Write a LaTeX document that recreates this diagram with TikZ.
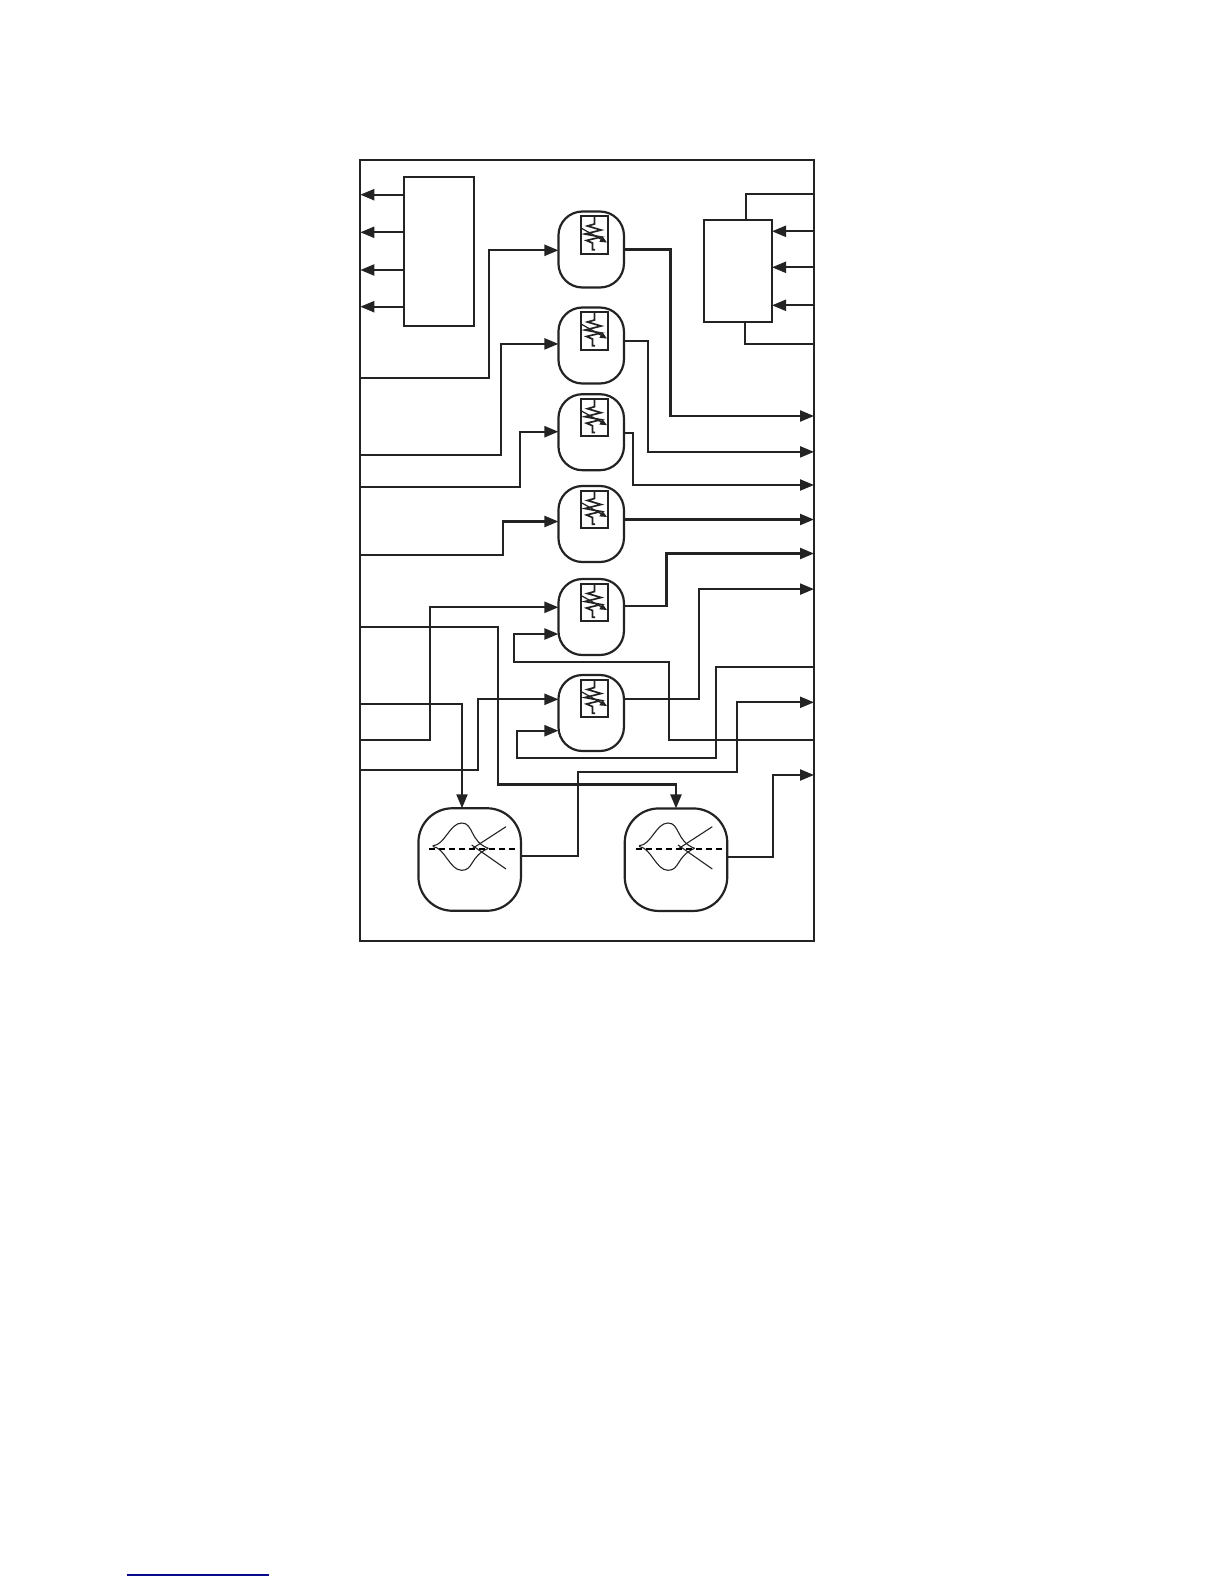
\documentclass[tikz,border=0pt]{standalone}
\usetikzlibrary{arrows.meta}
\definecolor{ink}{RGB}{35,35,35}
\definecolor{linkblue}{RGB}{10,10,140}
\tikzset{
  plainbox/.style={draw=ink,line width=2.2pt,inner sep=0pt,outer sep=0pt},
  resbox/.style={plainbox,rounded corners=24pt,minimum width=65.5pt,minimum height=76pt},
  filterbox/.style={plainbox,rounded corners=34pt,minimum width=102.5pt,minimum height=102.5pt},
  wire/.style={draw=ink,line width=2.2pt},
  arrowwire/.style={wire,-{Triangle[length=14pt,width=11pt]}},
  resistor/.pic={
    \draw[ink,line width=2pt] (-13.5,-18.6) rectangle (13.5,18.6);
    \draw[ink,line width=1.7pt] (0,-18.6) -- (0,-11) -- (-7,-9) -- (6.5,-5) -- (-9.5,-1) -- (6.5,2) -- (-8,5.5) -- (-2,8) -- (-2,14.7) -- (0.5,14.7);
    \draw[ink,line width=1.2pt,-{Triangle[length=7pt,width=6pt]}] (-13.5,-7) -- (12.5,7.5);
  },
  filtercurve/.pic={
    \draw[ink,line width=1.1pt] (-37,-13.8) .. controls (-25,-14) and (-20,-36.5) .. (-8,-36.5) .. controls (4,-36.5) and (0,-18) .. (18.6,-11.2);
    \draw[ink,line width=1.1pt] (-37,-13) .. controls (-25,-12) and (-20,10.8) .. (-8,10.8) .. controls (4,10.8) and (0,-3) .. (18.6,-11.2);
    \draw[ink,line width=1.1pt] (2,-10.5) -- (36.3,-32.8);
    \draw[ink,line width=1.1pt] (2,-14.5) -- (36.3,9.5);
    \draw[black,line width=2pt,dash pattern=on 6pt off 4pt] (-40.4,-10.5) -- (49.3,-10.5);
  }
}
\begin{document}
\begin{tikzpicture}[x=1pt,y=-1pt]
\useasboundingbox (0,0) rectangle (1224,1584);
% outer frame and the two plain blocks
\node[plainbox,minimum width=453.7pt,minimum height=781pt] (frame) at (587.15,550.8) {};
\node[plainbox,minimum width=69.7pt,minimum height=148.7pt] (leftblock) at (438.85,251.65) {};
\node[plainbox,minimum width=68pt,minimum height=102pt] (rightblock) at (738,271) {};
% six resistor blocks
\foreach \name/\y in {res1/249.5,res2/345.5,res3/432.2,res4/524,res5/617,res6/713}{
  \node[resbox] (\name) at (591.2,\y) {};
  \pic at (594.5,\y-14.5) {resistor};
}
% two filter blocks
\node[filterbox] (filt1) at (469.7,859.5) {};
\pic at (469.7,859.5) {filtercurve};
\node[filterbox] (filt2) at (676,859.7) {};
\pic at (676,859.5) {filtercurve};
% free ends on the frame
\foreach \name/\y in {la/194.7,lb/232.3,lc/270,ld/306.7,le/378,lf/455,lg/487.2,lh/554.8,li/626.7,lj/704.3,lk/740.3,ll/769.7}
  \coordinate (\name) at (360.3,\y);
\foreach \name/\y in {ra/194,rb/231.3,rc/267.3,rd/305.3,re/343.7,rf/416,rg/451.9,rh/485,ri/519.5,rj/553.5,rk/589.1,rl/667.3,rm/702.3,rn/740,ro/775}
  \coordinate (\name) at (814,\y);
% left block outputs
\foreach \name in {la,lb,lc,ld}
  \draw[arrowwire] (leftblock.west |- \name) -- (\name);
% right block
\draw[wire] (rightblock.north -| 745.7,0) |- (ra);
\draw[wire] (rightblock.south -| 745,0) |- (re);
\foreach \name in {rb,rc,rd}
  \draw[arrowwire] (\name) -- (rightblock.east |- \name);
% resistor inputs
\draw[arrowwire] (le) -| (488.7,250.3) -- (res1.west |- 0,250.3);
\draw[arrowwire] (lf) -| (500.7,343.9) -- (res2.west |- 0,343.9);
\draw[arrowwire] (lg) -| (520,431.7) -- (res3.west |- 0,431.7);
\draw[arrowwire] (lh) -| (502.8,521.5) -- (res4.west |- 0,521.5);
\draw[arrowwire] (lk) -| (430,607.3) -- (res5.west |- 0,607.3);
\draw[arrowwire] (ll) -| (477.7,699.3) -- (res6.west |- 0,699.3);
% feedback into res5 and res6
\draw[arrowwire] (rn) -| (669.3,662.3) -| (514.3,634) -- (res5.west |- 0,634);
\draw[arrowwire] (rl) -| (715.7,758.3) -| (517,730.7) -- (res6.west |- 0,730.7);
% resistor outputs
\draw[arrowwire] (res1.east |- 0,249.5) -| (670.5,416) -- (rf);
\draw[arrowwire] (res2.east |- 0,340.9) -| (648.3,451.9) -- (rg);
\draw[arrowwire] (res3.east |- 0,432.7) -| (633,485) -- (rh);
\draw[arrowwire] (res4.east |- 0,519.5) -- (ri);
\draw[arrowwire] (res5.east |- 0,606) -| (666.5,553.5) -- (rj);
\draw[arrowwire] (res6.east |- 0,699.3) -| (698.7,589.1) -- (rk);
% filter inputs
\draw[arrowwire] (lj) -| (filt1.north -| 462,0);
\draw[arrowwire] (li) -| (498.3,784.5) -| (filt2.north);
% filter outputs
\draw[arrowwire] (filt1.east |- 0,856) -| (578,772) -| (737.3,702.3) -- (rm);
\draw[arrowwire] (filt2.east |- 0,856.7) -| (773.3,775) -- (ro);
% underline at the foot of the page
\coordinate (linka) at (127,1575);
\coordinate (linkb) at (269,1575);
\draw[linkblue,line width=1.2pt] (linka) -- (linkb);
\end{tikzpicture}
\end{document}
